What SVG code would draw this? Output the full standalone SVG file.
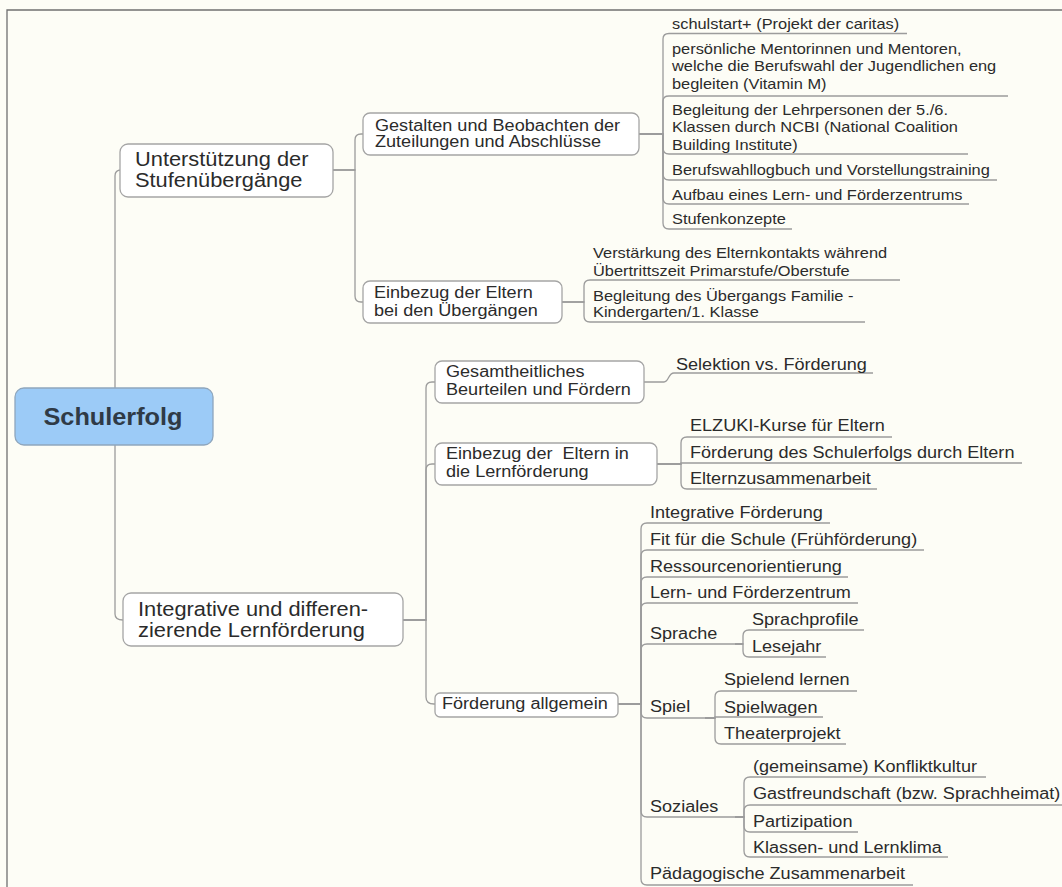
<svg xmlns="http://www.w3.org/2000/svg" width="1062" height="887" viewBox="0 0 1062 887">
<defs>
<style>
.bg{fill:#fdfdf6}
.frame{fill:none;stroke:#707070;stroke-width:1.3}
.box{fill:#ffffff;stroke:#a5a5a5;stroke-width:1.3}
.rootbox{fill:#9ccbf7;stroke:#8ea6bd;stroke-width:1.3}
.c{fill:none;stroke:#9c9c9c;stroke-width:1.3}
text{font-family:"Liberation Sans",Arial,Helvetica,sans-serif;fill:#2b2b2b}
.root{font-size:23px;font-weight:bold;fill:#2f3a46}
.l1{font-size:19.5px}
.l2{font-size:16px}
.la{font-size:14.5px}
.lb{font-size:16px}
</style>
</defs>
<rect class="bg" x="0" y="0" width="1062" height="887"/>
<path class="frame" d="M7 887 V10 H1062"/>

<g id="connectors">
  <!-- root -->
  <path class="c" d="M115 388 V176 Q115 170 121 170"/>
  <path class="c" d="M115 445 V614 Q115 620 123 620"/>
  <!-- Unterstuetzung -->
  <path class="c" d="M333 170 H355 V140 Q355 134 361 134 H363"/>
  <path class="c" d="M333 170 H355 V296 Q355 302 361 302 H363"/>
  <!-- Gestalten -->
  <path class="c" d="M639 134 H663 V39 Q663 33.5 669 33.5 H907"/>
  <path class="c" d="M639 134 H663 V101 Q663 96 669 96 H1008"/>
  <path class="c" d="M639 134 H663 V148 Q663 154 669 154 H968"/>
  <path class="c" d="M639 134 H663 V174 Q663 180 669 180 H997"/>
  <path class="c" d="M639 134 H663 V198 Q663 204 669 204 H969"/>
  <path class="c" d="M639 134 H663 V223 Q663 229 669 229 H792"/>
  <!-- Einbezug Uebergaenge -->
  <path class="c" d="M562 302 H584 V286 Q584 280 590 280 H900"/>
  <path class="c" d="M562 302 H584 V316 Q584 322 590 322 H865"/>
  <!-- Integrative -->
  <path class="c" d="M403 620 H426 V388 Q426 382 432 382 H435"/>
  <path class="c" d="M403 620 H426 V470 Q426 464 432 464 H435"/>
  <path class="c" d="M403 620 H426 V697 Q426 704 434 704 H435"/>
  <!-- Gesamtheitliches -->
  <path class="c" d="M644 382 H664 C669 382 668 373 674 373 H873"/>
  <!-- Einbezug Lernfoerderung -->
  <path class="c" d="M657 464 H681 V443 Q681 437 687 437 H892"/>
  <path class="c" d="M657 464 H681 V463 H1022"/>
  <path class="c" d="M657 464 H681 V483 Q681 489 687 489 H877"/>
  <!-- Foerderung allgemein -->
  <path class="c" d="M618 704 H641 V529 Q641 523 647 523 H830"/>
  <path class="c" d="M618 704 H641 V556 Q641 550 647 550 H924"/>
  <path class="c" d="M618 704 H641 V583 Q641 577 647 577 H848"/>
  <path class="c" d="M618 704 H641 V609 Q641 603 647 603 H858"/>
  <path class="c" d="M618 704 H641 V650 Q641 644 647 644 H743"/>
  <path class="c" d="M618 704 H641 V712 Q641 718 647 718 H715"/>
  <path class="c" d="M618 704 H641 V811 Q641 817 647 817 H744"/>
  <path class="c" d="M618 704 H641 V879 Q641 885 647 885 H913"/>
  <!-- Sprache -->
  <path class="c" d="M735 644 H743 V636 Q743 630 749 630 H864"/>
  <path class="c" d="M735 644 H743 V651 Q743 657 749 657 H826"/>
  <!-- Spiel -->
  <path class="c" d="M705 718 H715 V697 Q715 691 721 691 H857"/>
  <path class="c" d="M705 718 H715 V717 H823"/>
  <path class="c" d="M705 718 H715 V738 Q715 744 721 744 H846"/>
  <!-- Soziales -->
  <path class="c" d="M735 817 H744 V783 Q744 777 750 777 H986"/>
  <path class="c" d="M735 817 H744 V811 Q744 805 750 805 H1062"/>
  <path class="c" d="M735 817 H744 V826 Q744 832 750 832 H858"/>
  <path class="c" d="M735 817 H744 V851 Q744 857 750 857 H948"/>
</g>

<g id="n-root">
  <rect class="rootbox" x="15" y="388" width="198" height="57" rx="9"/>
  <text class="root" text-anchor="middle" transform="translate(113 425) scale(1.1 1)">Schulerfolg</text>
</g>

<g id="n-unterstuetzung">
  <rect class="box" x="120" y="144" width="213" height="53" rx="8"/>
  <text class="l1" transform="translate(135 166) scale(1.12 1)"><tspan x="0" y="0">Unterstützung der</tspan><tspan x="0" y="21">Stufenübergänge</tspan></text>
</g>

<g id="n-integrative">
  <rect class="box" x="123" y="593" width="280" height="53" rx="8"/>
  <text class="l1" transform="translate(138 616) scale(1.12 1)"><tspan x="0" y="0">Integrative und differen-</tspan><tspan x="0" y="21">zierende Lernförderung</tspan></text>
</g>

<g id="n-gestalten">
  <rect class="box" x="363" y="113" width="276" height="42" rx="7"/>
  <text class="l2" transform="translate(375 131) scale(1.13 1)"><tspan x="0" y="0">Gestalten und Beobachten der</tspan><tspan x="0" y="16.5">Zuteilungen und Abschlüsse</tspan></text>
</g>

<g id="n-einbezug-uebergaenge">
  <rect class="box" x="363" y="281" width="199" height="42" rx="7"/>
  <text class="l2" transform="translate(374 298) scale(1.13 1)"><tspan x="0" y="0">Einbezug der Eltern</tspan><tspan x="0" y="18">bei den Übergängen</tspan></text>
</g>

<g id="n-gesamtheitliches">
  <rect class="box" x="435" y="361" width="209" height="42" rx="7"/>
  <text class="l2" transform="translate(446 377) scale(1.13 1)"><tspan x="0" y="0">Gesamtheitliches</tspan><tspan x="0" y="18">Beurteilen und Fördern</tspan></text>
</g>

<g id="n-einbezug-lern">
  <rect class="box" x="435" y="443" width="222" height="42" rx="7"/>
  <text class="l2" style="white-space:pre" transform="translate(446 459) scale(1.13 1)"><tspan x="0" y="0">Einbezug der  Eltern in</tspan><tspan x="0" y="18">die Lernförderung</tspan></text>
</g>

<g id="n-foerderung-allgemein">
  <rect class="box" x="435" y="693" width="183" height="24" rx="5"/>
  <text class="l2" transform="translate(442 709) scale(1.13 1)">Förderung allgemein</text>
</g>

<g id="n-leaves-gestalten">
  <text class="la" transform="translate(672 29) scale(1.13 1)">schulstart+ (Projekt der caritas)</text>
  <text class="la" transform="translate(672 54) scale(1.13 1)"><tspan x="0" y="0">persönliche Mentorinnen und Mentoren,</tspan><tspan x="0" y="17.5">welche die Berufswahl der Jugendlichen eng</tspan><tspan x="0" y="35">begleiten (Vitamin M)</tspan></text>
  <text class="la" transform="translate(672 115) scale(1.13 1)"><tspan x="0" y="0">Begleitung der Lehrpersonen der 5./6.</tspan><tspan x="0" y="17.5">Klassen durch NCBI (National Coalition</tspan><tspan x="0" y="35">Building Institute)</tspan></text>
  <text class="la" transform="translate(672 175) scale(1.13 1)">Berufswahllogbuch und Vorstellungstraining</text>
  <text class="la" transform="translate(672 200) scale(1.13 1)">Aufbau eines Lern- und Förderzentrums</text>
  <text class="la" transform="translate(672 224) scale(1.13 1)">Stufenkonzepte</text>
</g>

<g id="n-leaves-einbezug-uebergaenge">
  <text class="la" transform="translate(593 258) scale(1.13 1)"><tspan x="0" y="0">Verstärkung des Elternkontakts während</tspan><tspan x="0" y="18">Übertrittszeit Primarstufe/Oberstufe</tspan></text>
  <text class="la" transform="translate(593 301) scale(1.13 1)"><tspan x="0" y="0">Begleitung des Übergangs Familie -</tspan><tspan x="0" y="16">Kindergarten/1. Klasse</tspan></text>
</g>

<g id="n-selektion">
  <text class="lb" transform="translate(676 370) scale(1.13 1)">Selektion vs. Förderung</text>
</g>

<g id="n-leaves-einbezug-lern">
  <text class="lb" transform="translate(690 431) scale(1.13 1)">ELZUKI-Kurse für Eltern</text>
  <text class="lb" transform="translate(690 458) scale(1.13 1)">Förderung des Schulerfolgs durch Eltern</text>
  <text class="lb" transform="translate(690 484) scale(1.13 1)">Elternzusammenarbeit</text>
</g>

<g id="n-leaves-foerderung">
  <text class="lb" transform="translate(650 518) scale(1.13 1)">Integrative Förderung</text>
  <text class="lb" transform="translate(650 545) scale(1.13 1)">Fit für die Schule (Frühförderung)</text>
  <text class="lb" transform="translate(650 572) scale(1.13 1)">Ressourcenorientierung</text>
  <text class="lb" transform="translate(650 598) scale(1.13 1)">Lern- und Förderzentrum</text>
  <text class="lb" transform="translate(650 639) scale(1.13 1)">Sprache</text>
  <text class="lb" transform="translate(650 712) scale(1.13 1)">Spiel</text>
  <text class="lb" transform="translate(650 812) scale(1.13 1)">Soziales</text>
  <text class="lb" transform="translate(650 879) scale(1.13 1)">Pädagogische Zusammenarbeit</text>
</g>

<g id="n-sprache">
  <text class="lb" transform="translate(752 625) scale(1.13 1)">Sprachprofile</text>
  <text class="lb" transform="translate(752 652) scale(1.13 1)">Lesejahr</text>
</g>

<g id="n-spiel">
  <text class="lb" transform="translate(724 685) scale(1.13 1)">Spielend lernen</text>
  <text class="lb" transform="translate(724 713) scale(1.13 1)">Spielwagen</text>
  <text class="lb" transform="translate(724 739) scale(1.13 1)">Theaterprojekt</text>
</g>

<g id="n-soziales">
  <text class="lb" transform="translate(753 772) scale(1.13 1)">(gemeinsame) Konfliktkultur</text>
  <text class="lb" transform="translate(753 799) scale(1.13 1)">Gastfreundschaft (bzw. Sprachheimat)</text>
  <text class="lb" transform="translate(753 827) scale(1.13 1)">Partizipation</text>
  <text class="lb" transform="translate(753 853) scale(1.13 1)">Klassen- und Lernklima</text>
</g>
</svg>
